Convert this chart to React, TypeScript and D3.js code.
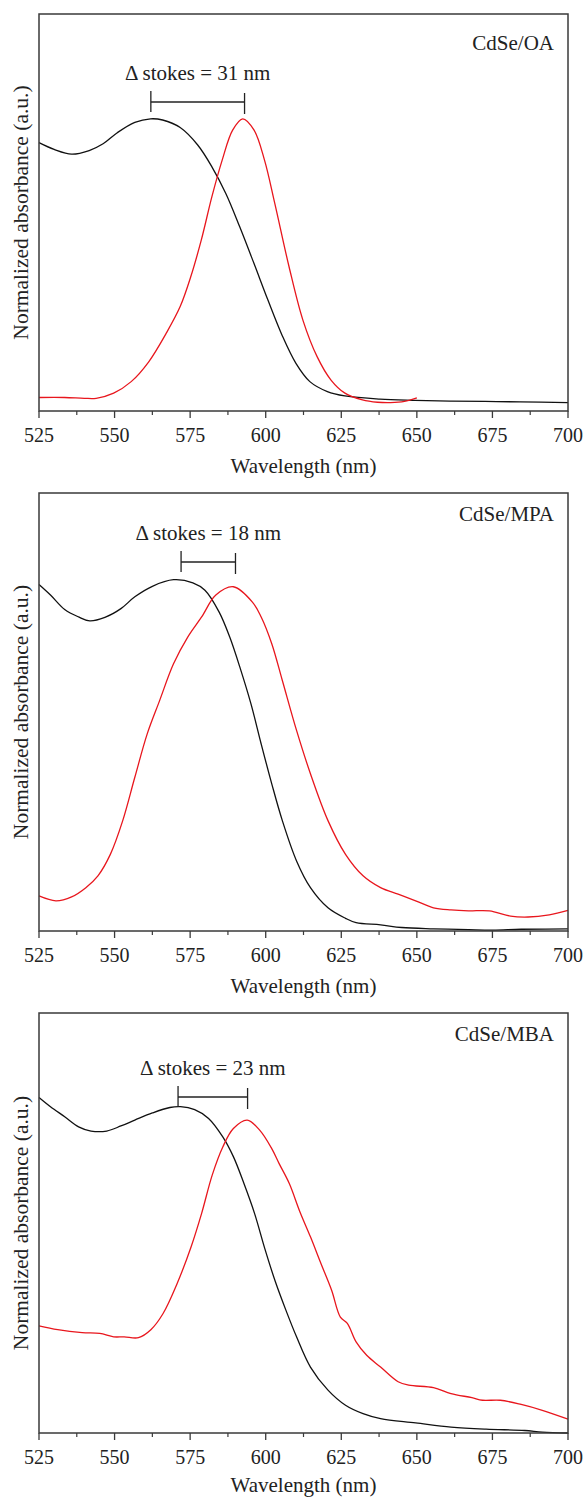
import React from "react";
import * as d3 from "d3";

// ---------- DATA (wavelength nm, normalized absorbance / PL, a.u.) ----------
const xTicks = [525, 550, 575, 600, 625, 650, 675, 700];
const sampleNames = ["CdSe/OA", "CdSe/MPA", "CdSe/MBA"];
const stokesShift = [31, 18, 23];
const stokesFrom = [562, 572, 571];
const stokesTo = [593, 590, 594];

const absOA: [number, number][] = [
  [525, 0.676], [530, 0.659], [535.8, 0.647], [541.6, 0.656], [546.2, 0.673], [550.9, 0.701],
  [556.7, 0.727], [561.9, 0.736], [565.9, 0.733], [571.7, 0.714], [577.5, 0.67], [582.2, 0.615],
  [586.8, 0.548], [591.4, 0.464], [596.1, 0.372], [600.7, 0.28], [605.4, 0.191], [610, 0.12],
  [614.6, 0.074], [620.4, 0.049], [626.2, 0.038], [637.8, 0.03], [649.4, 0.027], [661, 0.025],
  [672.6, 0.024], [684.2, 0.023], [700, 0.021],
];
const plOA: [number, number][] = [
  [525, 0.034], [533.5, 0.034], [540, 0.032], [543.9, 0.032], [549.7, 0.045], [555.5, 0.074],
  [561.3, 0.124], [567.1, 0.196], [571.7, 0.263], [575.2, 0.338], [578.7, 0.431], [582.2, 0.54],
  [585.6, 0.632], [589.1, 0.708], [592.4, 0.736], [596.1, 0.708], [599.6, 0.632], [603, 0.523],
  [607.7, 0.364], [612.3, 0.229], [617, 0.137], [621.6, 0.078], [626.2, 0.045], [632, 0.028],
  [637, 0.022], [641.3, 0.021], [645.9, 0.024], [650, 0.033],
];

const absMPA: [number, number][] = [
  [525, 0.791], [528.8, 0.767], [533.5, 0.734], [538.1, 0.717], [541.8, 0.708], [546.8, 0.716],
  [552.1, 0.736], [556.7, 0.763], [562.5, 0.787], [569.5, 0.802], [575.9, 0.795], [579.9, 0.778],
  [584.6, 0.728], [588.1, 0.671], [591.6, 0.599], [595.1, 0.519], [598.5, 0.427], [602, 0.336],
  [605.5, 0.252], [610.2, 0.16], [614.8, 0.099], [620.6, 0.053], [626.4, 0.029], [629.9, 0.019],
  [638, 0.014], [645, 0.008], [655.5, 0.005], [667.1, 0.003], [675.2, 0.002], [684.5, 0.004],
  [700, 0.005],
];
const plMPA: [number, number][] = [
  [525, 0.08], [530.6, 0.069], [535.8, 0.078], [540.5, 0.099], [544.5, 0.126], [548.6, 0.175],
  [552.7, 0.252], [556.7, 0.351], [560.8, 0.45], [564.9, 0.526], [569.5, 0.61], [574.2, 0.671],
  [578.8, 0.717], [583.5, 0.767], [589.3, 0.786], [595.6, 0.751], [598.5, 0.717], [602, 0.656],
  [605.5, 0.572], [610.2, 0.458], [614.8, 0.359], [620.6, 0.252], [626.4, 0.175], [632.2, 0.126],
  [638, 0.099], [643.8, 0.084], [649.6, 0.069], [655.5, 0.053], [661.3, 0.048], [667.1, 0.046],
  [674, 0.046], [681, 0.034], [686.8, 0.032], [693.8, 0.037], [700, 0.047],
];

const absMBA: [number, number][] = [
  [525, 0.799], [528.8, 0.777], [533.5, 0.753], [538.1, 0.729], [542.2, 0.719], [547.4, 0.719],
  [552.1, 0.731], [556.7, 0.745], [562.5, 0.762], [568.3, 0.775], [571.8, 0.777], [576.5, 0.77],
  [581.1, 0.749], [585.8, 0.705], [589.3, 0.658], [592.8, 0.594], [596.3, 0.523], [599.7, 0.439],
  [603.2, 0.36], [606.7, 0.292], [610.2, 0.229], [614.8, 0.157], [620.6, 0.102], [626.4, 0.066],
  [632.2, 0.046], [638, 0.034], [649.6, 0.024], [661.3, 0.014], [672.9, 0.009], [685.7, 0.006],
  [691.5, 0.002], [700, 0.0],
];
const plMBA: [number, number][] = [
  [525, 0.255], [531.2, 0.246], [539.3, 0.239], [545.1, 0.237], [549.7, 0.229], [553.2, 0.229],
  [557.9, 0.227], [562, 0.246], [566, 0.284], [570.7, 0.356], [575.3, 0.443], [578.8, 0.523],
  [582.3, 0.614], [585.8, 0.681], [589.3, 0.725], [593.9, 0.745], [598, 0.721], [602, 0.677],
  [604.4, 0.642], [607.8, 0.594], [611.3, 0.527], [614.8, 0.467], [618.3, 0.403], [621.8, 0.34],
  [624.7, 0.276], [627, 0.261], [629.9, 0.217], [633.4, 0.185], [638, 0.157], [643.8, 0.122],
  [647.3, 0.114], [655.5, 0.108], [661.3, 0.094], [668.2, 0.084], [671.7, 0.078], [677.6, 0.078],
  [684.5, 0.068], [691.5, 0.054], [700, 0.033],
];

const absSeries = [absOA, absMPA, absMBA];
const plSeries = [plOA, plMPA, plMBA];

// ---------- LAYOUT ----------
const W = 583;
const H = 1498;
const LEFT = 39;
const RIGHT = 568;
const panelBoxes = [
  { top: 14, bottom: 411, nameDy: 36, stokesDy: 66 },
  { top: 493, bottom: 931, nameDy: 28, stokesDy: 47 },
  { top: 1013, bottom: 1433, nameDy: 28, stokesDy: 62 },
];
const FONT = "'Liberation Serif', 'Times New Roman', serif";
const AXIS = "#3a3a3a";
const RED = "#e8161d";

function Panel({ i }: { i: number }) {
  const box = panelBoxes[i];
  const x = d3.scaleLinear().domain([525, 700]).range([LEFT, RIGHT]);
  const y = d3.scaleLinear().domain([0, 1]).range([box.bottom, box.top]);
  const line = d3
    .line<[number, number]>()
    .x((d) => x(d[0]))
    .y((d) => y(d[1]))
    .curve(d3.curveCatmullRom.alpha(0.5));
  const minor = d3.range(537.5, 700, 25);
  const bx1 = x(stokesFrom[i]);
  const bx2 = x(stokesTo[i]);
  const barY = box.top + box.stokesDy + 22;
  const midY = (box.top + box.bottom) / 2;
  const titleY = Math.min(box.bottom + 62, H - 6);
  return (
    <g>
      <path d={line(absSeries[i]) || ""} fill="none" stroke="#111" strokeWidth={1.3} />
      <path d={line(plSeries[i]) || ""} fill="none" stroke={RED} strokeWidth={1.3} />
      <rect
        x={LEFT}
        y={box.top}
        width={RIGHT - LEFT}
        height={box.bottom - box.top}
        fill="none"
        stroke={AXIS}
        strokeWidth={1.5}
      />
      {xTicks.map((t) => (
        <g key={t}>
          <line x1={x(t)} x2={x(t)} y1={box.bottom} y2={box.bottom + 7} stroke={AXIS} strokeWidth={1.3} />
          <text
            x={x(t)}
            y={box.bottom + 31}
            textAnchor="middle"
            fontFamily={FONT}
            fontSize={20}
            fill="#222"
          >
            {t}
          </text>
        </g>
      ))}
      {minor.map((t) => (
        <line key={t} x1={x(t)} x2={x(t)} y1={box.bottom} y2={box.bottom + 4} stroke={AXIS} strokeWidth={1.2} />
      ))}
      <text
        x={(LEFT + RIGHT) / 2}
        y={titleY}
        textAnchor="middle"
        fontFamily={FONT}
        fontSize={21}
        fill="#222"
      >
        Wavelength (nm)
      </text>
      <text
        transform={`translate(28,${midY}) rotate(-90)`}
        textAnchor="middle"
        fontFamily={FONT}
        fontSize={21.5}
        fill="#222"
      >
        Normalized absorbance (a.u.)
      </text>
      <text
        x={RIGHT - 14}
        y={box.top + box.nameDy}
        textAnchor="end"
        fontFamily={FONT}
        fontSize={21}
        fill="#222"
      >
        {sampleNames[i]}
      </text>
      <text
        x={(bx1 + bx2) / 2}
        y={box.top + box.stokesDy}
        textAnchor="middle"
        fontFamily={FONT}
        fontSize={21}
        fill="#222"
      >
        {`\u0394 stokes = ${stokesShift[i]} nm`}
      </text>
      <line x1={bx1} x2={bx2} y1={barY} y2={barY} stroke="#222" strokeWidth={1.3} />
      <line x1={bx1} x2={bx1} y1={barY - 11} y2={barY + 10} stroke="#222" strokeWidth={1.3} />
      <line x1={bx2} x2={bx2} y1={barY - 9} y2={barY + 12} stroke="#222" strokeWidth={1.3} />
    </g>
  );
}

export default function App() {
  return (
    <svg
      width={W}
      height={H}
      viewBox={`0 0 ${W} ${H}`}
      style={{ position: "absolute", left: 0, top: 0, background: "#fff" }}
    >
      {panelBoxes.map((_, i) => (
        <Panel key={i} i={i} />
      ))}
    </svg>
  );
}
